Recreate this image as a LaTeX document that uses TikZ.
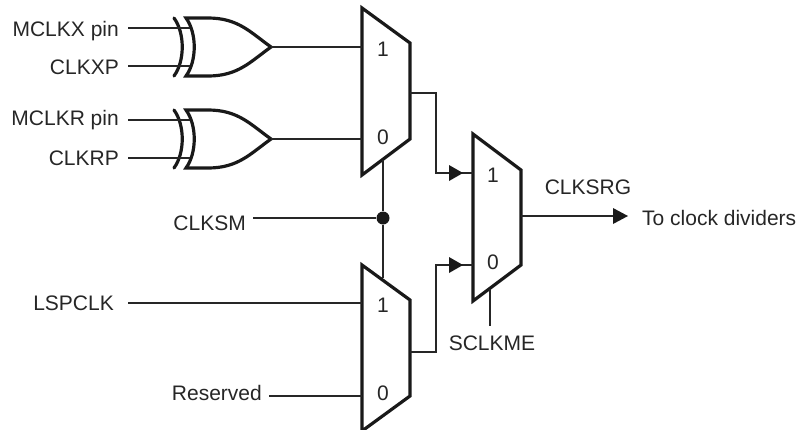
\documentclass[tikz,border=0pt]{standalone}
\usepackage{fontspec}
\setmainfont{Liberation Sans}
\tikzset{
  x=1pt,y=-1pt,
  thin wire/.style={line width=1.1pt,draw=black!85},
  thick wire/.style={line width=3.2pt,draw=black!90,line join=miter},
  lab/.style={inner sep=0pt,font=\fontsize{21}{21}\selectfont,text=black!85},
  tip/.style={fill=black!90,draw=none},
}
\newcommand{\xorgate}[1]{%
  \draw[thick wire] (186,#1-29) .. controls (197,#1-14) and (197,#1+14) .. (186,#1+29)
     -- (208,#1+29) .. controls (238,#1+29) and (250,#1+15) .. (271,#1)
     .. controls (250,#1-15) and (238,#1-29) .. (208,#1-29) -- cycle;
  \draw[thick wire,line cap=round] (174,#1-29) .. controls (185,#1-14) and (185,#1+14) .. (174,#1+29);
}
\begin{document}
\begin{tikzpicture}
\useasboundingbox (0,0) rectangle (796,429);
% XOR gates
\xorgate{47}
\xorgate{139}
% muxes
\draw[thick wire] (362,8) -- (410,43) -- (410,139) -- (362,175) -- cycle;
\draw[thick wire] (473,134) -- (521,170) -- (521,265) -- (473,301) -- cycle;
\draw[thick wire] (362,265) -- (410,300) -- (410,396) -- (362,431) -- cycle;
% labels
\node[lab,anchor=base east] (mclkx) at (119,36) {MCLKX pin};
\node[lab,anchor=base east] (clkxp) at (119,74) {CLKXP};
\node[lab,anchor=base east] (mclkr) at (119,125) {MCLKR pin};
\node[lab,anchor=base east] (clkrp) at (119,165.5) {CLKRP};
\node[lab,anchor=base east] (clksm) at (246,230) {CLKSM};
\node[lab,anchor=base east] (lspclk) at (114,310) {LSPCLK};
\node[lab,anchor=base east] (reserved) at (262,400.7) {Reserved};
\node[lab,anchor=base] (clksrg) at (588,194) {CLKSRG};
\node[lab,anchor=base] (sclkme) at (492,350) {SCLKME};
\node[lab,anchor=base west] (todiv) at (642,225) {To clock dividers};
\node[lab,anchor=base] at (383,56) {1};
\node[lab,anchor=base] at (383,144) {0};
\node[lab,anchor=base] at (493,182) {1};
\node[lab,anchor=base] at (493,269) {0};
\node[lab,anchor=base] at (383,312) {1};
\node[lab,anchor=base] at (383,400.7) {0};
\node[circle,fill=black!90,minimum size=13pt,inner sep=0pt] (dot) at (383,218) {};
\coordinate (a1) at (190,28); \coordinate (a2) at (190,66);
\coordinate (a3) at (190,120); \coordinate (a4) at (190,158);
% wires
\draw[thin wire] (128,28) -- (a1);
\draw[thin wire] (128,66) -- (a2);
\draw[thin wire] (128,120) -- (a3);
\draw[thin wire] (128,158) -- (a4);
\draw[thin wire] (271,47) -- (362,47);
\draw[thin wire] (271,139) -- (362,139);
\draw[thin wire] (410,93) -- (436,93) -- (436,173) -- (473,173);
\draw[thin wire] (410,352) -- (436,352) -- (436,265) -- (473,265);
\draw[thin wire] (521,216) -- (615,216);
\draw[thin wire] (253,218) -- (dot);
\draw[thin wire] (383,160) -- (dot) -- (383,278);
\draw[thin wire] (128,303) -- (362,303);
\draw[thin wire] (269,396) -- (362,396);
\draw[thin wire] (490,289) -- (490,326);
\fill[tip] (449,165) -- (463,173) -- (449,181) -- cycle;
\fill[tip] (449,257) -- (463,265) -- (449,273) -- cycle;
\fill[tip] (613,208) -- (628,216) -- (613,224) -- cycle;
\end{tikzpicture}
\end{document}
